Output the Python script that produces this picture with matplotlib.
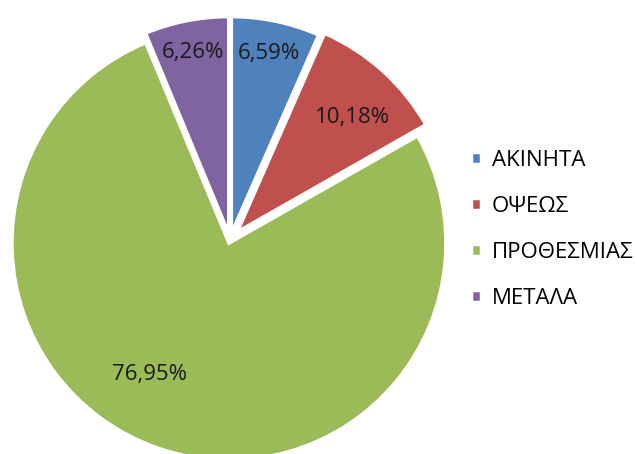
import matplotlib
matplotlib.use("Agg")
import matplotlib.pyplot as plt
import numpy as np

# data
labels = ['ΑΚΙΝΗΤΑ', 'ΟΨΕΩΣ', 'ΠΡΟΘΕΣΜΙΑΣ', 'ΜΕΤΑΛΑ']
values = [6.59, 10.18, 76.95, 6.26]
pct_text = ['6,59%', '10,18%', '76,95%', '6,26%']
colors = ['#4F81BD', '#C0504D', '#9BBB59', '#8064A2']

plt.rcParams['font.family'] = ['Open Sans', 'DejaVu Sans']

W, H = 637, 454
cx, cy, R = 230, 240, 217  # pie centre and radius in pixels

fig = plt.figure(figsize=(W / 100, H / 100), dpi=100)
ax = fig.add_axes([0, 0, 1, 1])
ax.axis('off')

wedges, _ = ax.pie(values, colors=colors, startangle=90, counterclock=False,
                   explode=[0.03, 0.05, 0.015, 0.03],
                   wedgeprops=dict(edgecolor='white', linewidth=2.5))
ax.set_xlim(-cx / R, (W - cx) / R)
ax.set_ylim(-(H - cy) / R, cy / R)
ax.set_aspect('equal')

# percentage labels: radial distance and angle shift from the wedge mid-angle
dists = [0.88, 0.80, 0.72, 0.88]
shifts = [0, -3, -12, 0]
for w, t, d, s in zip(wedges, pct_text, dists, shifts):
    ang = np.deg2rad((w.theta1 + w.theta2) / 2 + s)
    ax.text(d * np.cos(ang), d * np.sin(ang), t, ha='center', va='center',
            fontsize=16, color='#1a1a1a')

fig.legend(wedges, labels, loc='upper left', bbox_to_anchor=(462 / W, 1 - 141 / H),
           frameon=False, fontsize=16, handlelength=0.45, handleheight=0.45,
           labelspacing=1.12, handletextpad=0.5, borderaxespad=0)

fig.savefig('out.png', dpi=100)
